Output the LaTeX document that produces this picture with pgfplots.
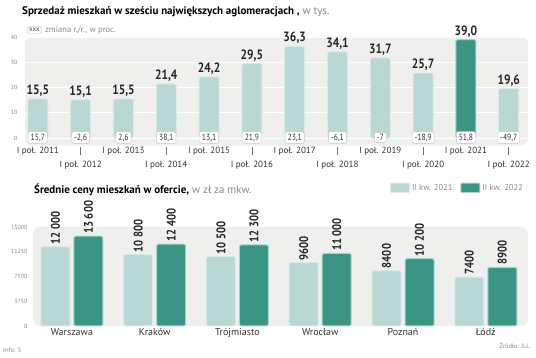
\documentclass[border=0pt]{standalone}
\usepackage{pgfplots}
\pgfplotsset{compat=1.18}
\usepackage{fontspec}
\setmainfont{PT Sans}
\newfontfamily\cond[FakeStretch=0.85]{PT Sans}
\definecolor{lightbar}{HTML}{B9D7D3}
\definecolor{lightedge}{HTML}{D9EAE7}
\definecolor{darkbar}{HTML}{3C9584}
\definecolor{darkedge}{HTML}{A6D4CB}
\definecolor{bgc}{HTML}{EFEFED}
\definecolor{txtgray}{HTML}{8A8A8A}
\newcommand{\vbar}{\textcolor{black!55}{\rule{0.6pt}{8pt}}}
\begin{document}
\begin{tikzpicture}
\useasboundingbox (0,0) rectangle (536pt,358pt);
\fill[white] (0,0) rectangle (536pt,358pt);
% titles
\node[anchor=west, inner sep=0] at (22pt,{358pt-12pt}) {\fontsize{11}{13}\selectfont\textbf{Sprzedaż mieszkań w sześciu największych aglomeracjach ,} {\color{txtgray}w tys.}};
\node[anchor=west, draw=gray!60, rounded corners=1.5pt, inner xsep=2pt, inner ysep=1.5pt, font=\fontsize{7}{8}\selectfont, text=black!75] (xxx) at (27pt,{358pt-30pt}) {xxx};
\node[anchor=west, inner sep=0, font=\fontsize{8.5}{10}\selectfont, text=txtgray] at ([xshift=3pt]xxx.east) {zmiana r./r., w proc.};
\node[anchor=west, inner sep=0] at (34pt,{358pt-190pt}) {\fontsize{11}{13}\selectfont\textbf{Średnie ceny mieszkań w ofercie,} {\color{txtgray}w zł za mkw.}};
\node[anchor=west, inner sep=0, font=\fontsize{6.5}{7}\selectfont, text=txtgray] at (3pt,{358pt-350pt}) {Info: S};
\node[anchor=east, inner sep=0, font=\fontsize{6.5}{7}\selectfont, text=txtgray] at (530pt,{358pt-346pt}) {Źródło: JLL};

\begin{axis}[
  at={(25pt,{358pt-145.6pt})}, anchor=south west,
  scale only axis, width=503pt, height=108.6pt,
  xmin=-0.3, xmax=11.45, ymin=-3, ymax=40,
  clip=false,
  axis line style={draw=none}, tick style={draw=none},
  axis background/.style={fill=bgc, rounded corners=7pt},
  ytick={0,10,20,30,40}, ymajorgrids, grid style={white, line width=0.6pt},
  /pgf/number format/assume math mode=true,
  yticklabel style={font=\fontsize{6}{7}\selectfont, text=txtgray, xshift=-4pt},
  xtick={0,...,11},
  xticklabels={I poł. 2011, {\vbar\\I poł. 2012}, I poł. 2013, {\vbar\\I poł. 2014}, I poł. 2015, {\vbar\\I poł. 2016}, I poł. 2017, {\vbar\\I poł. 2018}, I poł. 2019, {\vbar\\I poł. 2020}, I poł. 2021, {\vbar\\I poł. 2022}},
  xticklabel style={align=center, anchor=north, font=\fontsize{9}{13}\selectfont, text=black!80, inner sep=1pt},
]
\addplot[ybar, bar width=20pt, bar shift=0pt, fill=lightbar, draw=lightedge, line width=1pt, rounded corners=1.5pt,
  nodes near coords={\pgfmathprintnumber[fixed,fixed zerofill,precision=1,use comma,assume math mode=true]{\pgfplotspointmeta}},
  nodes near coords style={font=\cond\bfseries\fontsize{13.5}{14}\selectfont, text=black!85, inner sep=2pt}]
  coordinates {(0,15.5) (1,15.1) (2,15.5) (3,21.4) (4,24.2) (5,29.5) (6,36.3) (7,34.1) (8,31.7) (9,25.7) (11,19.6)};
\addplot[ybar, bar width=20pt, bar shift=0pt, fill=darkbar, draw=darkedge, line width=1pt, rounded corners=1.5pt,
  nodes near coords={\pgfmathprintnumber[fixed,fixed zerofill,precision=1,use comma,assume math mode=true]{\pgfplotspointmeta}},
  nodes near coords style={font=\cond\bfseries\fontsize{13.5}{14}\selectfont, text=black!85, inner sep=2pt}]
  coordinates {(10,39.0)};
\addplot[only marks, mark=*, mark options={draw=none, fill=none}, point meta=explicit,
  nodes near coords={\pgfmathprintnumber[fixed,precision=1,use comma,assume math mode=true]{\pgfplotspointmeta}},
  nodes near coords style={anchor=center, draw=gray!45, fill=white, rounded corners=1.5pt, inner xsep=2.5pt, inner ysep=2pt, font=\cond\fontsize{9}{10}\selectfont, text=black!80}]
  coordinates {(0,0.2)[15.7] (1,0.2)[-2.6] (2,0.2)[2.6] (3,0.2)[38.1] (4,0.2)[13.1] (5,0.2)[21.9] (6,0.2)[23.1] (7,0.2)[-6.1] (8,0.2)[-7] (9,0.2)[-18.9] (10,0.2)[51.8] (11,0.2)[-49.7]};
\end{axis}

\begin{axis}[
  at={(33pt,32pt)}, anchor=south west,
  scale only axis, width=495pt, height=99pt,
  xmin=-0.47, xmax=5.51, ymin=0, ymax=15000,
  clip=false,
  axis line style={draw=none}, tick style={draw=none},
  axis background/.style={fill=bgc, rounded corners=7pt},
  ytick={0,3750,7500,11250,15000},
  scaled y ticks=false,
  /pgf/number format/assume math mode=true,
  yticklabel style={font=\fontsize{6}{7}\selectfont, text=txtgray, xshift=-2pt, /pgf/number format/1000 sep={}},
  xtick={0,...,5},
  xticklabels={Warszawa, Kraków, Trójmiasto, Wrocław, Poznań, Łódź},
  xticklabel style={font=\fontsize{10}{12}\selectfont, text=black!80, inner sep=2pt},
  legend columns=2,
  legend style={at={(1,1)}, anchor=south east, yshift=31pt, draw=none, fill=none, font=\fontsize{8.5}{10}\selectfont, text=txtgray, /tikz/every even column/.append style={column sep=6pt}},
  legend image code/.code={\draw[#1, rounded corners=1pt] (0pt,-4.5pt) rectangle (19pt,5pt);},
]
\addplot[ybar, bar width=29pt, bar shift=-16.5pt, fill=lightbar, draw=lightedge, line width=1pt, rounded corners=1.5pt,
  nodes near coords={\pgfmathprintnumber[1000 sep={\ },min exponent for 1000 sep=4,assume math mode=true]{\pgfplotspointmeta}},
  nodes near coords style={xshift=-16.5pt, rotate=90, anchor=west, font=\cond\bfseries\fontsize{12.5}{13}\selectfont, text=black!85, inner sep=2pt}]
  coordinates {(0,12000) (1,10800) (2,10500) (3,9600) (4,8400) (5,7400)};
\addlegendentry{II kw. 2021}
\addplot[ybar, bar width=29pt, bar shift=16.5pt, fill=darkbar, draw=darkedge, line width=1pt, rounded corners=1.5pt,
  nodes near coords={\pgfmathprintnumber[1000 sep={\ },min exponent for 1000 sep=4,assume math mode=true]{\pgfplotspointmeta}},
  nodes near coords style={xshift=16.5pt, rotate=90, anchor=west, font=\cond\bfseries\fontsize{12.5}{13}\selectfont, text=black!85, inner sep=2pt}]
  coordinates {(0,13600) (1,12400) (2,12300) (3,11000) (4,10200) (5,8900)};
\addlegendentry{II kw. 2022}
\end{axis}
\end{tikzpicture}
\end{document}
